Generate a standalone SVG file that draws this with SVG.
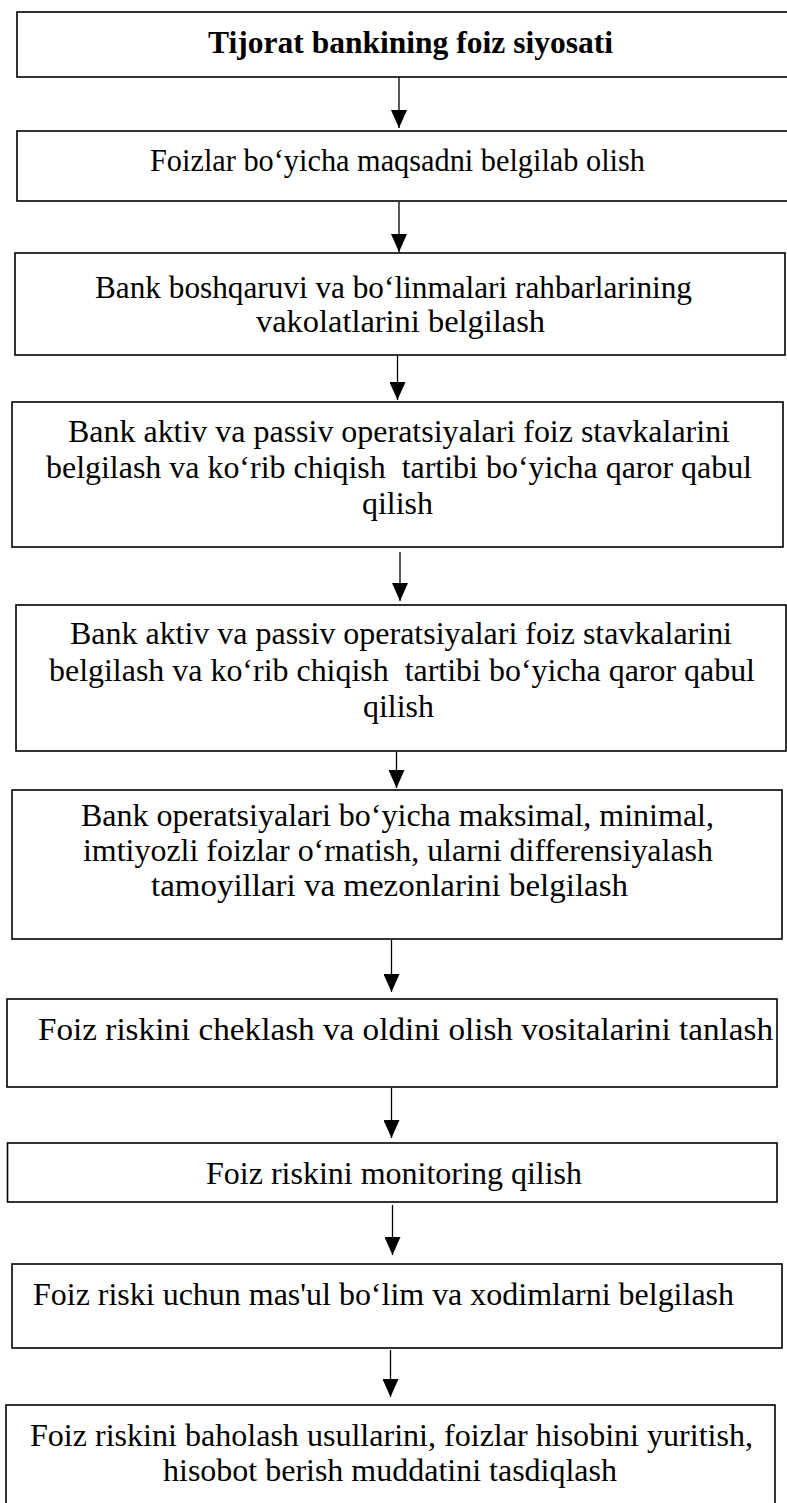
<svg xmlns="http://www.w3.org/2000/svg" width="787" height="1503" viewBox="0 0 787 1503">
  <style>
    .box { fill: #ffffff; stroke: #000000; stroke-width: 1.6; }
    .t { font-family: "Liberation Serif", "Times New Roman", serif; font-size: 31px; fill: #000000; white-space: pre; }
    .b { font-weight: bold; }
    .arr { stroke: #000000; stroke-width: 1.3; fill: none; marker-end: url(#ah); }
  </style>
  <defs>
    <marker id="ah" viewBox="0 0 18 16" refX="18" refY="8" markerWidth="18" markerHeight="16" markerUnits="userSpaceOnUse" orient="auto">
      <path d="M0,0 L18,8 L0,16 Z" fill="#000000"/>
    </marker>
  </defs>
  <rect width="787" height="1503" fill="#ffffff"/>

  <g id="connectors">
    <line class="arr" x1="399" y1="77" x2="399" y2="128"/>
    <line class="arr" x1="399" y1="202" x2="399" y2="252"/>
    <line class="arr" x1="397.5" y1="354" x2="397.5" y2="400"/>
    <line class="arr" x1="400" y1="552" x2="400" y2="601"/>
    <line class="arr" x1="396.5" y1="752" x2="396.5" y2="788"/>
    <line class="arr" x1="391.5" y1="940" x2="391.5" y2="992"/>
    <line class="arr" x1="391.5" y1="1088" x2="391.5" y2="1138"/>
    <line class="arr" x1="392.5" y1="1205" x2="392.5" y2="1255"/>
    <line class="arr" x1="390.5" y1="1350" x2="390.5" y2="1397"/>
  </g>

  <g id="n1">
    <rect class="box" x="17" y="12" width="790" height="65"/>
    <text class="t b" x="208" y="53" textLength="405" lengthAdjust="spacingAndGlyphs">Tijorat bankining foiz siyosati</text>
  </g>

  <g id="n2">
    <rect class="box" x="17" y="131" width="790" height="70"/>
    <text class="t" x="150" y="171" textLength="495" lengthAdjust="spacingAndGlyphs">Foizlar bo‘yicha maqsadni belgilab olish</text>
  </g>

  <g id="n3">
    <rect class="box" x="15" y="253" width="770" height="102"/>
    <text class="t" x="95" y="298" textLength="597" lengthAdjust="spacingAndGlyphs">Bank boshqaruvi va bo‘linmalari rahbarlarining</text>
    <text class="t" x="256" y="332" textLength="289" lengthAdjust="spacingAndGlyphs">vakolatlarini belgilash</text>
  </g>

  <g id="n4">
    <rect class="box" x="12" y="402" width="771" height="145"/>
    <text class="t" x="68" y="442" textLength="662" lengthAdjust="spacingAndGlyphs">Bank aktiv va passiv operatsiyalari foiz stavkalarini</text>
    <text class="t" x="46" y="478" textLength="706" lengthAdjust="spacingAndGlyphs">belgilash va ko‘rib chiqish  tartibi bo‘yicha qaror qabul</text>
    <text class="t" x="362" y="514" textLength="71" lengthAdjust="spacingAndGlyphs">qilish</text>
  </g>

  <g id="n5">
    <rect class="box" x="16" y="605" width="770" height="146"/>
    <text class="t" x="70" y="644" textLength="662" lengthAdjust="spacingAndGlyphs">Bank aktiv va passiv operatsiyalari foiz stavkalarini</text>
    <text class="t" x="49" y="681" textLength="706" lengthAdjust="spacingAndGlyphs">belgilash va ko‘rib chiqish  tartibi bo‘yicha qaror qabul</text>
    <text class="t" x="363" y="717" textLength="71" lengthAdjust="spacingAndGlyphs">qilish</text>
  </g>

  <g id="n6">
    <rect class="box" x="12" y="790" width="770" height="149"/>
    <text class="t" x="81" y="826" textLength="633" lengthAdjust="spacingAndGlyphs">Bank operatsiyalari bo‘yicha maksimal, minimal,</text>
    <text class="t" x="83" y="861" textLength="630" lengthAdjust="spacingAndGlyphs">imtiyozli foizlar o‘rnatish, ularni differensiyalash</text>
    <text class="t" x="151" y="896" textLength="477" lengthAdjust="spacingAndGlyphs">tamoyillari va mezonlarini belgilash</text>
  </g>

  <g id="n7">
    <rect class="box" x="7" y="999" width="770" height="88"/>
    <text class="t" x="38" y="1040" textLength="735" lengthAdjust="spacingAndGlyphs">Foiz riskini cheklash va oldini olish vositalarini tanlash</text>
  </g>

  <g id="n8">
    <rect class="box" x="7.5" y="1143" width="769.5" height="59"/>
    <text class="t" x="206" y="1184" textLength="376" lengthAdjust="spacingAndGlyphs">Foiz riskini monitoring qilish</text>
  </g>

  <g id="n9">
    <rect class="box" x="12" y="1264" width="770" height="84"/>
    <text class="t" x="33" y="1305" textLength="701" lengthAdjust="spacingAndGlyphs">Foiz riski uchun mas'ul bo‘lim va xodimlarni belgilash</text>
  </g>

  <g id="n10">
    <rect class="box" x="6" y="1405" width="769" height="110"/>
    <text class="t" x="30" y="1446" textLength="723" lengthAdjust="spacingAndGlyphs">Foiz riskini baholash usullarini, foizlar hisobini yuritish,</text>
    <text class="t" x="163" y="1481" textLength="454" lengthAdjust="spacingAndGlyphs">hisobot berish muddatini tasdiqlash</text>
  </g>
</svg>
